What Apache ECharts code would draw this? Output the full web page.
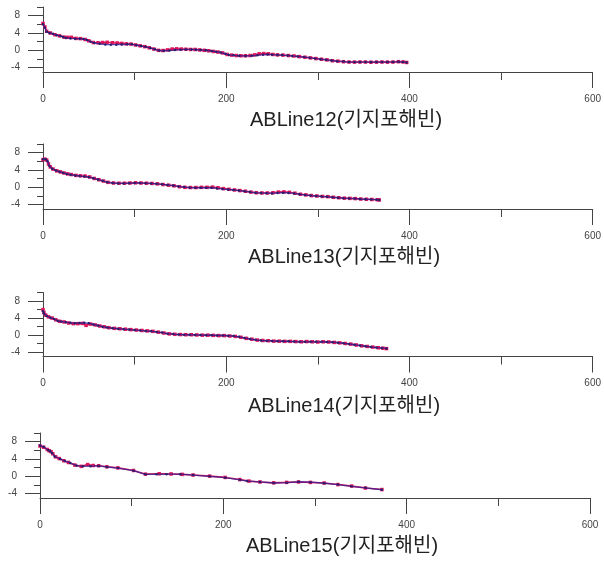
<!DOCTYPE html>
<html>
<head>
<meta charset="utf-8">
<script src="https://cdn.jsdelivr.net/npm/echarts@6/dist/echarts.min.js"></script>
<style>
html,body{margin:0;padding:0;background:#fff;}
#c{width:604px;height:571px;}
</style>
</head>
<body>
<div id="c"></div>
<script>
// ---- data ----
var titles = ['ABLine12(기지포해빈)', 'ABLine13(기지포해빈)', 'ABLine14(기지포해빈)', 'ABLine15(기지포해빈)'];
var xMajorTicks = [0, 200, 400, 600];
var xMinorTicks = [100, 300, 500];
var yMajorTicks = [-4, 0, 4, 8];
var yMinorTicks = [-2, 2, 6, 10];

var line12Blue = [[0,6.0],[2,5.2],[4,4.3],[7,4.0],[11,3.8],[15,3.5],[19,3.3],[22,3.1],[25,2.85],[30,2.75],[35,2.7],[40,2.7],[44,2.6],[48,2.4],[52,2.0],[56,1.7],[62,1.5],[68,1.35],[74,1.3],[80,1.3],[86,1.35],[92,1.4],[97,1.4],[102,1.2],[107,1.0],[112,0.8],[117,0.55],[122,0.25],[127,-0.05],[132,-0.1],[138,-0.05],[144,0.05],[150,0.15],[156,0.2],[162,0.2],[167,0.15],[172,0.1],[178,0],[184,-0.15],[189,-0.3],[194,-0.5],[199,-0.8],[203,-1.05],[208,-1.15],[214,-1.25],[221,-1.3],[228,-1.25],[234,-1.15],[240,-1.0],[245,-0.95],[250,-1.0],[256,-1.05],[261,-1.1],[267,-1.2],[272,-1.3],[278,-1.4],[285,-1.55],[291,-1.7],[297,-1.9],[303,-2.05],[309,-2.2],[315,-2.35],[321,-2.5],[328,-2.6],[334,-2.7],[340,-2.7],[346,-2.7],[352,-2.72],[358,-2.72],[364,-2.7],[370,-2.7],[376,-2.7],[382,-2.68],[388,-2.65],[393,-2.7],[397,-2.8]];
var line12Red = [[0,6.2],[2,5.4],[4,4.4],[8,4.0],[13,3.6],[18,3.35],[23,3.05],[27,3.0],[31,3.0],[36,2.75],[41,2.7],[46,2.5],[50,2.2],[55,1.8],[60,1.75],[65,1.8],[70,1.85],[76,1.75],[81,1.7],[86,1.6],[91,1.5],[96,1.45],[101,1.25],[106,1.05],[111,0.85],[116,0.6],[121,0.3],[126,0],[131,-0.05],[136,0.1],[141,0.3],[146,0.35],[151,0.3],[156,0.25],[161,0.2],[166,0.2],[171,0.1],[176,0.0],[181,-0.1],[186,-0.25],[191,-0.4],[196,-0.6],[201,-0.95],[206,-1.1],[211,-1.2],[216,-1.25],[221,-1.25],[226,-1.2],[231,-1.05],[236,-0.8],[241,-0.75],[246,-0.8],[251,-0.95],[256,-1.05],[262,-1.1],[268,-1.2],[274,-1.3],[280,-1.45],[286,-1.6],[292,-1.75],[298,-1.9],[304,-2.05],[310,-2.2],[316,-2.4],[322,-2.5],[328,-2.62],[334,-2.7],[340,-2.72],[346,-2.7],[352,-2.7],[358,-2.75],[364,-2.72],[370,-2.7],[376,-2.72],[382,-2.7],[388,-2.62],[393,-2.68],[397,-2.8]];

var line13Blue = [[0,6.5],[3,6.5],[5,6.0],[7,4.9],[10,4.3],[14,3.9],[18,3.6],[22,3.35],[26,3.1],[30,2.9],[35,2.75],[40,2.6],[45,2.5],[50,2.35],[55,2.1],[60,1.8],[65,1.5],[70,1.2],[76,1.0],[82,0.9],[88,0.9],[94,0.95],[100,1.0],[106,1.0],[112,0.95],[118,0.9],[124,0.8],[130,0.7],[136,0.55],[142,0.4],[148,0.2],[154,0.05],[160,-0.05],[166,-0.1],[172,-0.1],[178,-0.1],[184,-0.1],[190,-0.25],[196,-0.4],[202,-0.5],[208,-0.62],[214,-0.75],[220,-0.9],[226,-1.1],[232,-1.25],[238,-1.3],[244,-1.35],[250,-1.4],[256,-1.3],[262,-1.25],[268,-1.3],[274,-1.4],[280,-1.6],[286,-1.75],[292,-1.9],[298,-2.0],[304,-2.1],[310,-2.2],[316,-2.3],[322,-2.4],[328,-2.5],[334,-2.55],[340,-2.6],[346,-2.7],[352,-2.75],[358,-2.8],[364,-2.85],[367,-2.9]];
var line13Red = [[0,6.4],[2,6.5],[4,6.3],[6,5.4],[8,4.7],[11,4.2],[15,3.8],[19,3.55],[23,3.3],[27,3.1],[31,2.95],[36,2.75],[41,2.65],[46,2.6],[51,2.4],[56,2.05],[61,1.75],[66,1.45],[71,1.15],[77,1.0],[83,0.95],[89,0.95],[95,1.0],[101,1.05],[107,1.0],[113,0.95],[119,0.9],[125,0.8],[131,0.65],[137,0.5],[143,0.35],[149,0.15],[155,0.0],[161,-0.05],[167,-0.05],[173,0.0],[179,0.0],[185,0.05],[191,-0.1],[197,-0.3],[203,-0.45],[209,-0.6],[215,-0.75],[221,-0.9],[227,-1.1],[233,-1.25],[239,-1.3],[245,-1.3],[251,-1.25],[257,-1.1],[263,-1.05],[269,-1.15],[275,-1.35],[281,-1.6],[287,-1.75],[293,-1.9],[299,-2.0],[305,-2.1],[311,-2.15],[317,-2.3],[323,-2.4],[329,-2.5],[335,-2.55],[341,-2.6],[347,-2.7],[353,-2.75],[359,-2.8],[365,-2.85],[367,-2.9]];

var line14Blue = [[0,5.6],[1,5.1],[4,4.5],[8,4.1],[12,3.8],[16,3.35],[20,3.2],[25,3.05],[30,2.9],[35,2.8],[40,2.85],[45,2.9],[50,2.8],[55,2.5],[60,2.25],[65,2.0],[70,1.8],[76,1.65],[82,1.5],[88,1.4],[94,1.3],[100,1.2],[106,1.1],[112,1.0],[118,0.9],[124,0.75],[130,0.6],[136,0.35],[142,0.25],[148,0.15],[154,0.1],[160,0.08],[166,0.05],[172,0.02],[178,0],[184,-0.02],[190,-0.05],[196,-0.08],[202,-0.12],[208,-0.2],[214,-0.4],[220,-0.65],[226,-0.9],[232,-1.1],[238,-1.25],[244,-1.3],[250,-1.35],[256,-1.4],[262,-1.42],[268,-1.45],[274,-1.5],[280,-1.55],[286,-1.55],[292,-1.55],[298,-1.55],[304,-1.55],[310,-1.6],[316,-1.65],[322,-1.75],[328,-1.9],[334,-2.05],[340,-2.25],[346,-2.45],[352,-2.6],[358,-2.75],[364,-2.9],[370,-3.0],[375,-3.1]];
var line14Red = [[0,6.0],[1,5.3],[3,4.7],[6,4.3],[10,4.0],[14,3.6],[18,3.25],[23,3.1],[28,2.85],[33,2.7],[38,2.7],[43,2.75],[47,2.3],[52,2.6],[57,2.4],[62,2.15],[67,1.95],[72,1.75],[78,1.6],[84,1.5],[90,1.4],[96,1.3],[102,1.2],[108,1.1],[114,1.0],[120,0.9],[126,0.7],[132,0.5],[138,0.3],[144,0.2],[150,0.15],[156,0.1],[162,0.1],[168,0.05],[174,0.0],[180,0.0],[186,-0.05],[192,-0.1],[198,-0.1],[204,-0.2],[210,-0.3],[216,-0.5],[222,-0.75],[228,-0.95],[234,-1.15],[240,-1.25],[246,-1.3],[252,-1.4],[258,-1.4],[264,-1.45],[270,-1.45],[276,-1.5],[282,-1.55],[288,-1.5],[294,-1.55],[300,-1.6],[306,-1.55],[312,-1.6],[318,-1.7],[324,-1.8],[330,-1.95],[336,-2.1],[342,-2.3],[348,-2.5],[354,-2.65],[360,-2.8],[366,-2.95],[371,-3.05],[375,-3.15]];

var line15Blue = [[0,7.1],[4,6.8],[9,6.0],[11,5.85],[13,5.4],[16,4.6],[22,4.0],[27,3.55],[33,3.1],[40,2.45],[47,2.3],[55,2.35],[64,2.4],[73,2.15],[85,1.9],[102,1.3],[115,0.46],[127,0.46],[138,0.5],[153,0.5],[167,0.3],[185,0],[202,-0.3],[218,-0.8],[226,-1.1],[240,-1.3],[255,-1.54],[269,-1.46],[282,-1.25],[295,-1.35],[310,-1.6],[325,-1.9],[340,-2.3],[355,-2.65],[373,-3.1]];
var line15Red = [[0,7.0],[4,6.7],[8,6.2],[10,5.9],[12,5.7],[14,5.2],[17,4.5],[21,4.1],[26,3.6],[31,3.2],[38,2.6],[45,2.3],[52,2.7],[58,2.5],[64,2.45],[73,2.2],[85,1.95],[102,1.35],[115,0.5],[130,0.6],[143,0.55],[155,0.45],[167,0.3],[185,0.05],[202,-0.25],[218,-0.75],[228,-1.1],[240,-1.3],[255,-1.5],[269,-1.4],[282,-1.3],[295,-1.4],[310,-1.55],[325,-1.9],[340,-2.25],[355,-2.7],[373,-3.05]];

var panelData = [[line12Blue, line12Red],[line13Blue, line13Red],[line14Blue, line14Red],[line15Blue, line15Red]];

// ---- layout ----
var grids = [
  {left:43, top:7, width:551, height:65},
  {left:43, top:144, width:551, height:65},
  {left:43, top:292.5, width:551, height:64},
  {left:40, top:433, width:550, height:65}
];
var titlePos = [{left:250, top:110},{left:248, top:247},{left:248, top:396},{left:246, top:536}];

var axisColor = '#444';
var lblStyle = {fontSize:10, color:'#444', fontFamily:'Liberation Sans, Arial, sans-serif'};

var option = {
  animation:false,
  backgroundColor:'#fff',
  title:[], grid:[], xAxis:[], yAxis:[], series:[]
};

for (var i=0;i<4;i++){
  option.grid.push(Object.assign({containLabel:false}, grids[i]));
  option.title.push({
    text:titles[i], left:titlePos[i].left, top:titlePos[i].top, padding:0,
    textStyle:{fontSize:20, fontWeight:'normal', color:'#222', fontFamily:'Liberation Sans, Arial, "Noto Sans CJK KR", sans-serif'}
  });
  option.xAxis.push({
    type:'value', gridIndex:i, min:0, max:600, position:'bottom',
    axisLine:{show:true, onZero:false, lineStyle:{color:axisColor, width:1}},
    axisTick:{show:true, inside:false, length:16, customValues:xMajorTicks, lineStyle:{color:axisColor}},
    axisLabel:Object.assign({show:true, margin:22, customValues:xMajorTicks}, lblStyle),
    splitLine:{show:false}
  });
  option.xAxis.push({
    type:'value', gridIndex:i, min:0, max:600, position:'bottom',
    axisLine:{show:false, onZero:false},
    axisTick:{show:true, inside:false, length:8, customValues:xMinorTicks, lineStyle:{color:axisColor}},
    axisLabel:{show:false},
    splitLine:{show:false}
  });
  option.yAxis.push({
    type:'value', gridIndex:i, min:-5, max:10, position:'left',
    axisLine:{show:true, onZero:false, lineStyle:{color:axisColor, width:1}},
    axisTick:{show:true, inside:false, length:15, customValues:yMajorTicks, lineStyle:{color:axisColor}},
    axisLabel:Object.assign({show:true, margin:23, customValues:yMajorTicks}, lblStyle),
    splitLine:{show:false}
  });
  option.yAxis.push({
    type:'value', gridIndex:i, min:-5, max:10, position:'left',
    axisLine:{show:false, onZero:false},
    axisTick:{show:true, inside:false, length:6, customValues:yMinorTicks, lineStyle:{color:axisColor}},
    axisLabel:{show:false},
    splitLine:{show:false}
  });
  // red series (underneath)
  option.series.push({
    type:'line', xAxisIndex:2*i, yAxisIndex:2*i, data:panelData[i][1],
    symbol:'rect', symbolSize:3.5, showSymbol:true,
    itemStyle:{color:'#e0145a'}, lineStyle:{color:'#e0145a', width:1.6}, z:2
  });
  // blue series (on top, semi-transparent -> purple blend)
  option.series.push({
    type:'line', xAxisIndex:2*i, yAxisIndex:2*i, data:panelData[i][0],
    symbol:'circle', symbolSize:2.5, showSymbol:true,
    itemStyle:{color:'#2a1f6e'}, lineStyle:{color:'#24209a', width:1.3, opacity:0.75}, z:3
  });
}

var chart = echarts.init(document.getElementById('c'), null, {renderer:'canvas'});
chart.setOption(option);
</script>
</body>
</html>
